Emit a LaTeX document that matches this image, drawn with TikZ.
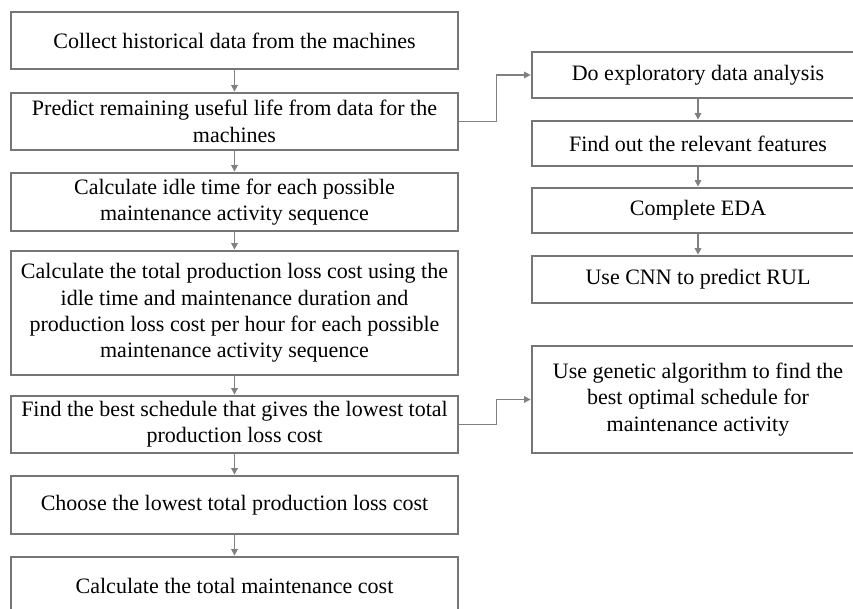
\documentclass[tikz,border=0pt]{standalone}
\usepackage{fontspec}
\setmainfont{Liberation Serif}
\usetikzlibrary{arrows.meta}
\definecolor{boxgray}{HTML}{767676}
\definecolor{linegray}{HTML}{808080}
\tikzset{
  flowbox/.style={draw=boxgray, line width=2.8pt, fill=white, align=center,
    inner sep=0pt, text=black, font=\fontsize{22}{26.3}\selectfont},
  conn/.style={draw=linegray, line width=1.5pt,
    -{Triangle[length=6.5pt,width=6.5pt]}}
}
\begin{document}
\begin{tikzpicture}[x=1pt,y=-1pt]
\clip (0,0) rectangle (853,609);
\fill[white] (0,0) rectangle (853,609);
% left column
\node[flowbox, minimum width=447pt, minimum height=57pt] (b1) at (234.5,40.5) {Collect historical data from the machines};
\node[flowbox, minimum width=447pt, minimum height=57pt] (b2) at (234.5,121.5) {Predict remaining useful life from data for the\\machines};
\node[flowbox, minimum width=447pt, minimum height=58pt] (b3) at (234.5,202) {Calculate idle time for each possible\\maintenance activity sequence};
\node[flowbox, minimum width=447pt, minimum height=124pt] (b4) at (234.5,313) {Calculate the total production loss cost using the\\idle time and maintenance duration and\\production loss cost per hour for each possible\\maintenance activity sequence};
\node[flowbox, minimum width=447pt, minimum height=57pt] (b5) at (234.5,424.5) {Find the best schedule that gives the lowest total\\production loss cost};
\node[flowbox, minimum width=447pt, minimum height=58pt] (b6) at (234.5,505) {Choose the lowest total production loss cost};
\node[flowbox, minimum width=447pt, minimum height=58pt] (b7) at (234.5,586) {Calculate the total maintenance cost};
% right column
\node[flowbox, minimum width=332pt, minimum height=46pt] (r1) at (698,75) {Do exploratory data analysis};
\node[flowbox, minimum width=332pt, minimum height=45pt] (r2) at (698,143.5) {Find out the relevant features};
\node[flowbox, minimum width=332pt, minimum height=45pt] (r3) at (698,210.5) {Complete EDA};
\node[flowbox, minimum width=332pt, minimum height=47pt] (r4) at (698,279.5) {Use CNN to predict RUL};
\node[flowbox, minimum width=332pt, minimum height=107pt] (g1) at (698,399.5) {Use genetic algorithm to find the\\best optimal schedule for\\maintenance activity};
% connectors
\draw[conn] (b1) -- (b2);
\draw[conn] (b2) -- (b3);
\draw[conn] (b3) -- (b4);
\draw[conn] (b4) -- (b5);
\draw[conn] (b5) -- (b6);
\draw[conn] (b6) -- (b7);
\draw[conn] (r1) -- (r2);
\draw[conn] (r2) -- (r3);
\draw[conn] (r3) -- (r4);
\draw[conn] (b2.east) -- ++(37,0) |- (r1.west);
\draw[conn] (b5.east) -- ++(37,0) |- (g1.west);
\end{tikzpicture}
\end{document}
